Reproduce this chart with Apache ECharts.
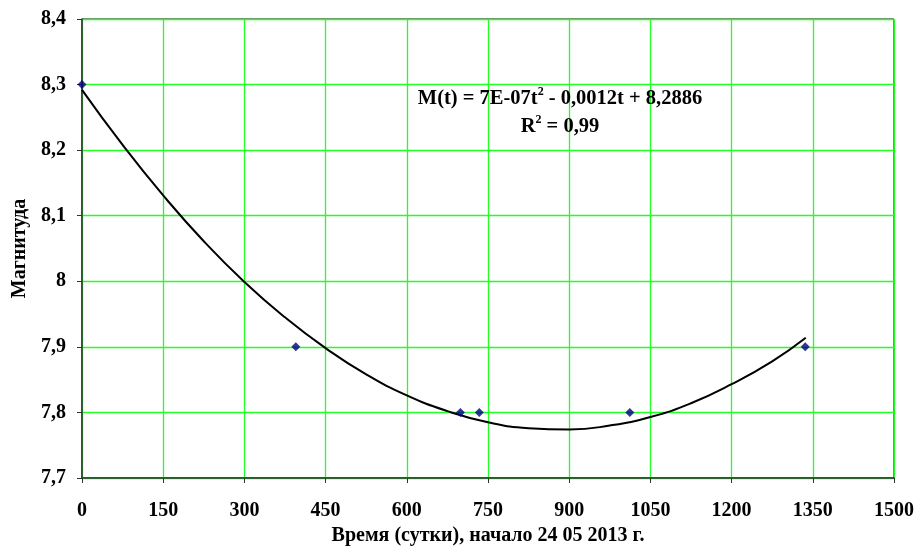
<!DOCTYPE html>
<html><head><meta charset="utf-8">
<script src="https://cdn.jsdelivr.net/npm/echarts@6/dist/echarts.min.js"></script>
<style>html,body{margin:0;padding:0;background:#fff}#c{width:917px;height:554px}</style>
</head><body><div id="c"></div>
<script>
// Observed data points (time in days, magnitude)
const obsT = [0, 395, 699, 734, 1012, 1336];
const obsM = [8.3, 7.9, 7.8, 7.8, 7.8, 7.9];
// Trend curve
const trendT = [0, 75, 150, 225, 300, 375, 450, 525, 600, 675, 750, 825, 900, 975, 1050, 1125, 1200, 1275, 1337];
const trendM = [8.292, 8.208, 8.131, 8.061, 7.999, 7.945, 7.898, 7.858, 7.826, 7.802, 7.785, 7.776, 7.774, 7.780, 7.793, 7.814, 7.843, 7.878, 7.914];
const xTicks = [0, 1500, 150];
const yTicks = [7.7, 8.4, 0.1];
const equationText = 'M(t) = 7E-07t{s|2} - 0,0012t + 8,2886';
const r2Text = 'R{s|2} = 0,99';
const xName = 'Время (сутки), начало 24 05 2013 г.';
const yName = 'Магнитуда';

const FONT = '"Liberation Serif", "Times New Roman", serif';
const chart = echarts.init(document.getElementById('c'), null, {renderer: 'canvas'});
const fmtY = v => (Math.round(v * 10) / 10).toString().replace('.', ',');
const fmtX = v => String(Math.round(v));
const annoStyle = {
  fontFamily: FONT, fontWeight: 'bold', fontSize: 20.5, fill: '#000',
  align: 'center', verticalAlign: 'middle',
  rich: {s: {fontFamily: FONT, fontWeight: 'bold', fontSize: 12, verticalAlign: 'top', lineHeight: 26, padding: [0, 0, 10, 0]}}
};
chart.setOption({
  animation: false,
  backgroundColor: '#fff',
  grid: {left: 82, right: 22, top: 19, bottom: 76, show: true, borderColor: '#000', borderWidth: 1, backgroundColor: 'transparent'},
  xAxis: {
    type: 'value', min: xTicks[0], max: xTicks[1], interval: xTicks[2],
    name: xName, nameLocation: 'middle', nameGap: 46,
    nameTextStyle: {fontFamily: FONT, fontWeight: 'bold', fontSize: 20, color: '#000'},
    axisLine: {show: true, lineStyle: {color: '#333', width: 1.5}},
    axisTick: {show: true, inside: false, length: 5, lineStyle: {color: '#333'}},
    axisLabel: {fontFamily: FONT, fontWeight: 'bold', fontSize: 20, color: '#000', margin: 23, formatter: fmtX},
    splitLine: {show: true, lineStyle: {color: '#22ff22', width: 1.3}}
  },
  yAxis: {
    type: 'value', min: yTicks[0], max: yTicks[1], interval: yTicks[2],
    name: yName, nameLocation: 'middle', nameGap: 52, nameRotate: 90,
    nameTextStyle: {fontFamily: FONT, fontWeight: 'bold', fontSize: 20, color: '#000'},
    axisLine: {show: true, lineStyle: {color: '#333', width: 1.5}},
    axisTick: {show: true, inside: false, length: 5, lineStyle: {color: '#333'}},
    axisLabel: {fontFamily: FONT, fontWeight: 'bold', fontSize: 20, color: '#000', margin: 16, formatter: fmtY},
    splitLine: {show: true, lineStyle: {color: '#22ff22', width: 1.3}}
  },
  series: [
    {
      type: 'line', smooth: true, showSymbol: false, symbol: 'none',
      data: trendT.map((t, i) => [t, trendM[i]]),
      lineStyle: {color: '#000', width: 2}, z: 3
    },
    {
      type: 'scatter', symbol: 'diamond', symbolSize: 9,
      data: obsT.map((t, i) => [t, obsM[i]]),
      itemStyle: {color: '#000080'}, z: 4
    }
  ],
  graphic: [
    {type: 'text', x: 560, y: 99, z: 10, style: Object.assign({text: equationText}, annoStyle)},
    {type: 'text', x: 560, y: 127, z: 10, style: Object.assign({text: r2Text}, annoStyle)}
  ]
});
</script>
</body></html>
